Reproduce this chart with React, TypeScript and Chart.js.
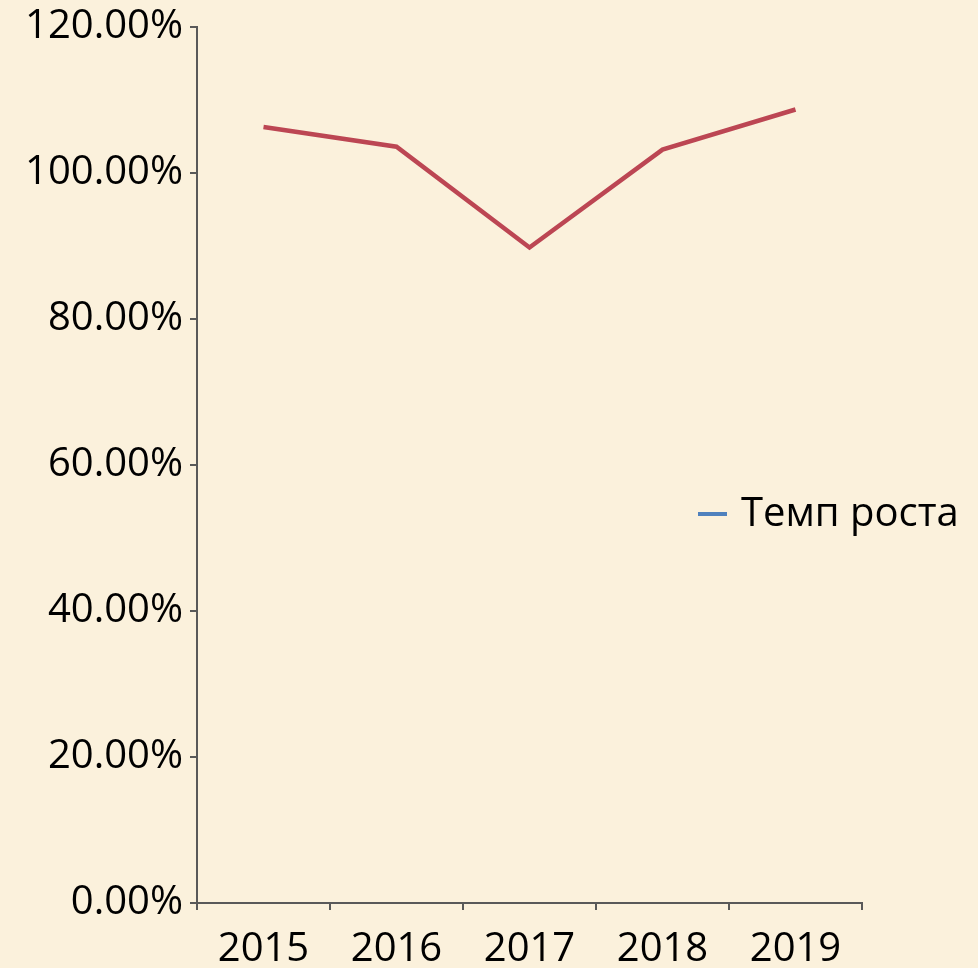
import React, { useEffect, useRef } from "react";
import { Chart, registerables } from "chart.js";

Chart.register(...registerables);

const categories = ["2015", "2016", "2017", "2018", "2019"];
const growthRate = [106.3, 103.6, 89.8, 103.2, 108.7];
const seriesName = "Темп роста";
const yMin = 0;
const yMax = 120;
const yStep = 20;

const FONT = "'Open Sans', 'DejaVu Sans', sans-serif";

export default function App() {
  const ref = useRef<HTMLCanvasElement | null>(null);

  useEffect(() => {
    if (!ref.current) return;
    const legendPlugin = {
      id: "overlayLegend",
      afterDraw(chart: any) {
        const ctx = chart.ctx;
        ctx.save();
        ctx.strokeStyle = "#4F81BD";
        ctx.lineWidth = 4;
        ctx.beginPath();
        ctx.moveTo(698, 514);
        ctx.lineTo(727, 514);
        ctx.stroke();
        ctx.fillStyle = "#000000";
        ctx.font = `40px ${FONT}`;
        ctx.textBaseline = "middle";
        ctx.textAlign = "left";
        ctx.fillText(seriesName, 741, 515);
        ctx.restore();
      },
    };
    const bgPlugin = {
      id: "bg",
      beforeDraw(chart: any) {
        const ctx = chart.ctx;
        ctx.save();
        ctx.fillStyle = "#FBF1DC";
        ctx.fillRect(0, 0, chart.width, chart.height);
        ctx.restore();
      },
    };
    const chart = new Chart(ref.current, {
      type: "line",
      data: {
        labels: categories,
        datasets: [
          {
            label: seriesName,
            data: growthRate,
            borderColor: "#BC4653",
            borderWidth: 4.5,
            pointRadius: 0,
            tension: 0,
            fill: false,
          },
        ],
      },
      options: {
        animation: false,
        responsive: false,
        maintainAspectRatio: false,
        layout: { padding: { top: 25, right: 116, bottom: 0, left: 0 } },
        plugins: {
          legend: { display: false },
          tooltip: { enabled: false },
        },
        scales: {
          x: {
            type: "category",
            offset: true,
            grid: {
              offset: true,
              drawOnChartArea: false,
              drawTicks: true,
              tickLength: 7,
              color: "#595959",
              lineWidth: 2,
            },
            border: { display: true, color: "#595959", width: 2 },
            ticks: {
              color: "#000000",
              font: { family: FONT, size: 40 },
              padding: 16,
              maxRotation: 0,
              autoSkip: false,
            },
            afterFit(s: any) {
              s.height = 65;
            },
          },
          y: {
            min: yMin,
            max: yMax,
            grid: {
              drawOnChartArea: false,
              drawTicks: true,
              tickLength: 7,
              color: "#595959",
              lineWidth: 2,
            },
            border: { display: true, color: "#595959", width: 2 },
            ticks: {
              stepSize: yStep,
              color: "#000000",
              font: { family: FONT, size: 40, lineHeight: 1 },
              padding: 7,
              callback: (v: any) => Number(v).toFixed(2) + "%",
            },
            afterFit(s: any) {
              s.width = 197;
            },
          },
        },
      },
      plugins: [bgPlugin, legendPlugin],
    });
    return () => chart.destroy();
  }, []);

  return (
    <div style={{ position: "fixed", left: 0, top: 0, width: 978, height: 968, background: "#FBF1DC" }}>
      <canvas ref={ref} width={978} height={968} style={{ width: 978, height: 968, display: "block" }} />
    </div>
  );
}
